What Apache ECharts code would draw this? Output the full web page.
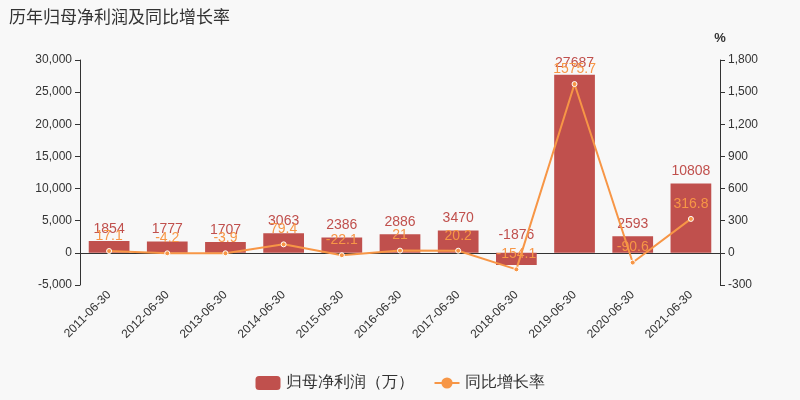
<!DOCTYPE html><html><head><meta charset="utf-8"><script src="https://cdn.jsdelivr.net/npm/echarts@6/dist/echarts.min.js"></script></head><body style="margin:0;background:#f8f8f8"><div id="c" style="width:800px;height:400px"></div><script>
const categories=['2011-06-30','2012-06-30','2013-06-30','2014-06-30','2015-06-30','2016-06-30','2017-06-30','2018-06-30','2019-06-30','2020-06-30','2021-06-30'];
const profit=[1854,1777,1707,3063,2386,2886,3470,-1876,27687,2593,10808];
const growth=[17.1,-4.2,-3.9,79.4,-22.1,21,20.2,-154.1,1575.7,-90.6,316.8];
const c=echarts.init(document.getElementById('c'));
c.setOption({backgroundColor:'#f8f8f8',
title:{text:'历年归母净利润及同比增长率',left:4,top:3,textStyle:{fontSize:17,fontWeight:'normal',color:'#333',fontFamily:'Noto Sans CJK SC'}},
legend:{bottom:4,itemGap:20,textStyle:{fontSize:16,color:'#333'},data:[{name:'归母净利润（万）',icon:'roundRect'},{name:'同比增长率'}]},
grid:{left:80,right:80,top:60,bottom:115},
xAxis:{type:'category',data:categories,axisTick:{alignWithLabel:true},axisLine:{lineStyle:{color:'#333'}},axisLabel:{rotate:45,color:'#333',fontSize:12}},
yAxis:[{type:'value',min:-5000,max:30000,interval:5000,splitLine:{show:false},axisLine:{show:true,lineStyle:{color:'#333'}},axisTick:{show:true},axisLabel:{color:'#333'}},
{type:'value',name:'%',nameTextStyle:{color:'#333',fontSize:13,fontWeight:'bold'},min:-300,max:1800,interval:300,splitLine:{show:false},axisLine:{show:true,lineStyle:{color:'#333'}},axisTick:{show:true},axisLabel:{color:'#333'}}],
series:[{name:'归母净利润（万）',type:'bar',data:profit.map(v=>v<0?{value:v,label:{position:'insideTop',offset:[0,-30]}}:v),barWidth:'70%',itemStyle:{color:'#c0504d'},label:{show:true,position:'top',color:'#c0504d',fontSize:14}},
{name:'同比增长率',type:'line',yAxisIndex:1,data:growth,symbol:'circle',symbolSize:5,itemStyle:{color:'#f79646',borderColor:'#fff'},lineStyle:{color:'#f79646',width:2},label:{show:true,position:'top',color:'#f79646',fontSize:14}}]});
</script></body></html>
